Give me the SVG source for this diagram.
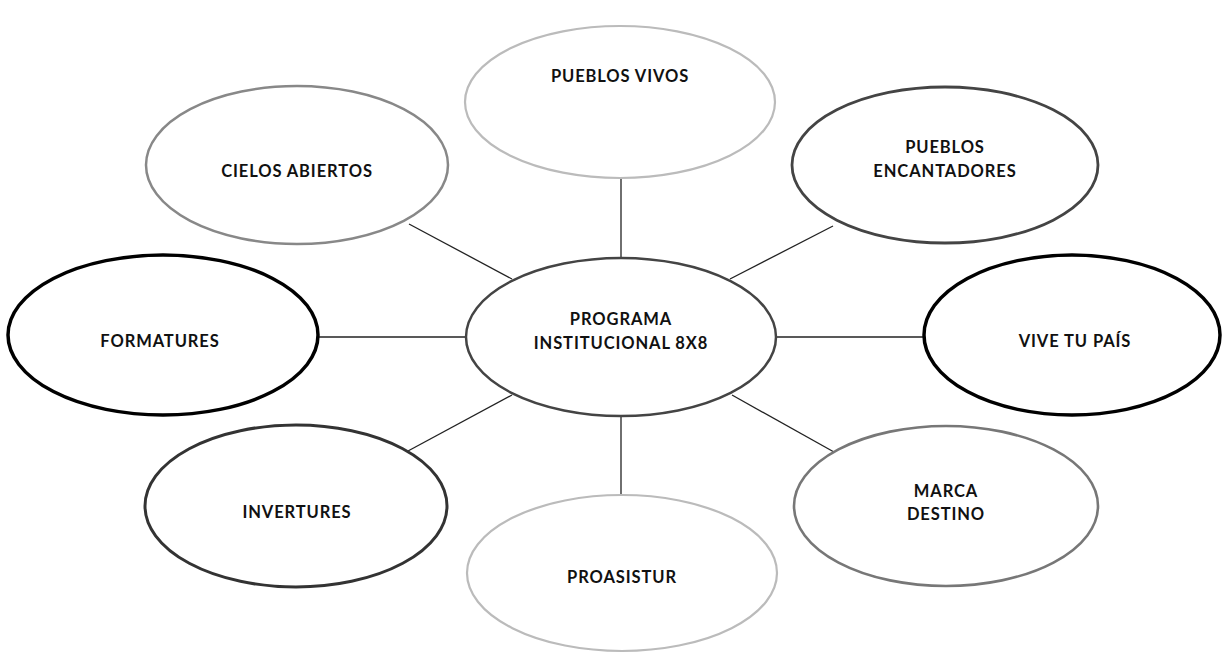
<svg xmlns="http://www.w3.org/2000/svg" width="1222" height="656" viewBox="0 0 1222 656">
<style>
.n{fill:#fff}
.t{font-family:Lato,"Liberation Sans",sans-serif;font-weight:bold;font-size:16.5px;fill:#111;text-anchor:middle;letter-spacing:0.9px}
.c{stroke:#222;stroke-width:1.3;fill:none}
</style>
<rect width="1222" height="656" fill="#fff"/>
<g id="connectors">
<line class="c" x1="621" y1="178" x2="621" y2="258"/>
<line class="c" x1="621" y1="416" x2="621" y2="496"/>
<line class="c" x1="316" y1="337" x2="467" y2="337"/>
<line class="c" x1="775" y1="337" x2="924" y2="337"/>
<line class="c" x1="409" y1="224" x2="512" y2="279"/>
<line class="c" x1="833" y1="226" x2="730" y2="279"/>
<line class="c" x1="408" y1="451" x2="512" y2="395"/>
<line class="c" x1="834" y1="452" x2="732" y2="395"/>
</g>
<g id="center">
<ellipse class="n" cx="621" cy="337" rx="155" ry="79" stroke="#444" stroke-width="2.5"/>
<text class="t" x="621" y="325">PROGRAMA</text>
<text class="t" x="621" y="349">INSTITUCIONAL 8X8</text>
</g>
<g id="pueblos-vivos">
<ellipse class="n" cx="620" cy="102" rx="155" ry="76" stroke="#bbb" stroke-width="2.2"/>
<text class="t" x="620" y="82">PUEBLOS VIVOS</text>
</g>
<g id="cielos-abiertos">
<ellipse class="n" cx="297" cy="165" rx="151" ry="79" stroke="#888" stroke-width="2.5"/>
<text class="t" x="297" y="177">CIELOS ABIERTOS</text>
</g>
<g id="pueblos-encantadores">
<ellipse class="n" cx="945" cy="165" rx="153" ry="78" stroke="#444" stroke-width="2.8"/>
<text class="t" x="945" y="153">PUEBLOS</text>
<text class="t" x="945" y="177">ENCANTADORES</text>
</g>
<g id="formatures">
<ellipse class="n" cx="163" cy="335" rx="155" ry="80" stroke="#000" stroke-width="3.5"/>
<text class="t" x="160" y="347">FORMATURES</text>
</g>
<g id="vive-tu-pais">
<ellipse class="n" cx="1072" cy="335" rx="148" ry="80" stroke="#000" stroke-width="3.5"/>
<text class="t" x="1075" y="347">VIVE TU PAÍS</text>
</g>
<g id="invertures">
<ellipse class="n" cx="296" cy="506" rx="151" ry="81" stroke="#333" stroke-width="3"/>
<text class="t" x="297" y="518">INVERTURES</text>
</g>
<g id="marca-destino">
<ellipse class="n" cx="946" cy="506" rx="152" ry="80" stroke="#777" stroke-width="2.6"/>
<text class="t" x="946" y="497">MARCA</text>
<text class="t" x="946" y="520">DESTINO</text>
</g>
<g id="proasistur">
<ellipse class="n" cx="622" cy="573" rx="155" ry="78" stroke="#bbb" stroke-width="2.2"/>
<text class="t" x="622" y="583">PROASISTUR</text>
</g>
</svg>
